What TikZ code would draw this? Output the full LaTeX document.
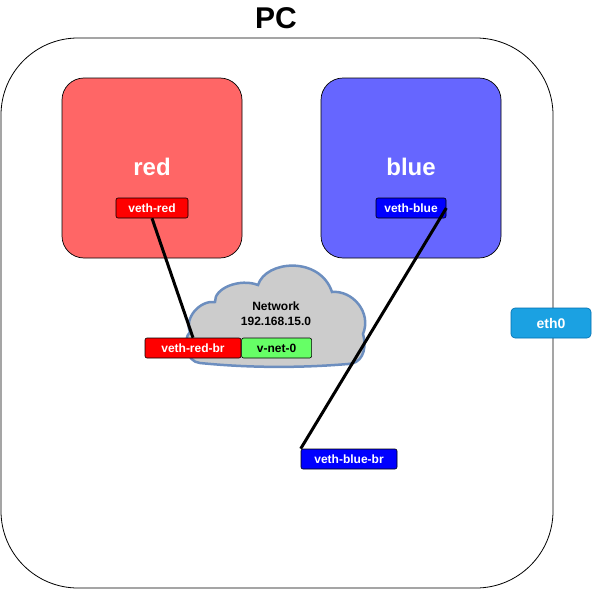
\documentclass[tikz,border=0pt]{standalone}
\usepackage{fontspec}
\setmainfont{Liberation Sans}
\usetikzlibrary{positioning}
\definecolor{redns}{HTML}{FF6666}
\definecolor{bluens}{HTML}{6666FF}
\definecolor{vethr}{HTML}{FF0000}
\definecolor{vethb}{HTML}{0000FF}
\definecolor{netgreen}{HTML}{66FF66}
\definecolor{cloudfill}{HTML}{CCCCCC}
\definecolor{cloudline}{HTML}{6C8EBF}
\definecolor{ethfill}{HTML}{1BA1E2}
\definecolor{ethline}{HTML}{006EAF}

\begin{document}
\begin{tikzpicture}[x=1pt, y=1pt,
  font=\bfseries,
  ns/.style    = {draw, rounded corners=22pt, minimum width=180pt, minimum height=180pt,
                  line width=0.7pt},
  nslbl/.style = {text=white, font=\bfseries\fontsize{24}{28}\selectfont},
  port/.style  = {draw, rounded corners=2pt, minimum height=20pt, inner sep=0pt,
                  line width=0.6pt, text=white, font=\bfseries\fontsize{12}{14}\selectfont},
  wire/.style  = {line width=3pt, black}]

\useasboundingbox (0,0) rectangle (592,-589);

% host
\node[font=\bfseries\fontsize{30}{34}\selectfont] (pc) at (276,-18) {PC};
\draw[line width=0.8pt, rounded corners=77pt] (1,-38) rectangle (553,-588);

% namespaces
\node[ns, fill=redns]  (red)  at (152,-168) {};
\node[ns, fill=bluens] (blue) at (411,-168) {};
\node[nslbl] (redlbl)  at (152,-167) {red};
\node[nslbl] (bluelbl) at (411,-167) {blue};

\node[port, fill=vethr, minimum width=72pt] (vethred)  at (152,-208) {veth-red};
\node[port, fill=vethb, minimum width=70pt] (vethblue) at (411,-208) {veth-blue};

% bridge network
\draw[line width=2.5pt, draw=cloudline, fill=cloudfill]
  (200,-363) .. controls (186,-362) and (182,-340) .. (190,-332)
  .. controls (184,-318) and (200,-300) .. (215,-302)
  .. controls (214,-288) and (240,-278) .. (258,-285)
  .. controls (266,-260) and (320,-256) .. (332,-292)
  .. controls (352,-290) and (372,-312) .. (363,-334)
  .. controls (368,-352) and (360,-364) .. (348,-364)
  .. controls (300,-368) and (250,-368) .. (200,-363) -- cycle;
\node[align=center, font=\bfseries\fontsize{12}{15}\selectfont] (net) at (276,-314)
  {Network\\192.168.15.0};

\node[port, fill=vethr, minimum width=96pt] (vethredbr) at (193,-348) {veth-red-br};
\node[port, fill=netgreen, text=black, minimum width=70pt, right=0pt of vethredbr] (vnet) {v-net-0};

\node[port, fill=vethb, minimum width=96pt] (vethbluebr) at (349,-459) {veth-blue-br};

\node[port, draw=ethline, fill=ethfill, rounded corners=4pt, minimum width=80pt,
      minimum height=30pt, font=\bfseries\fontsize{14}{16}\selectfont] (eth) at (551,-323) {eth0};

% cables
\draw[wire] (vethred.south) -- (vethredbr.north);
\draw[wire] (vethblue.east) -- (vethbluebr.north west);
\end{tikzpicture}
\end{document}
